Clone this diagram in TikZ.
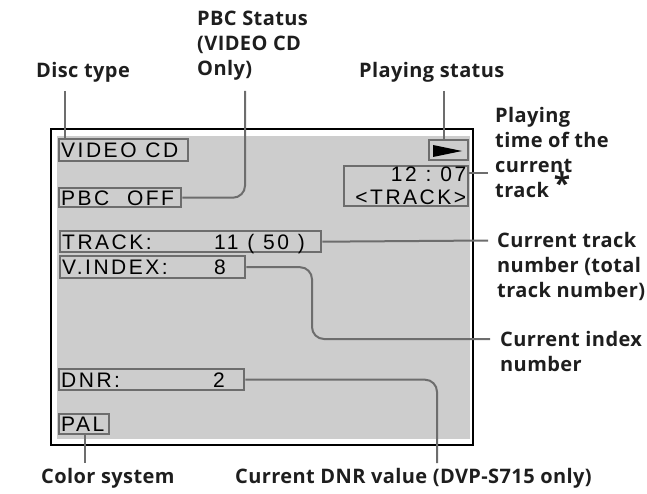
\documentclass[tikz,border=0pt]{standalone}
\usepackage{fontspec}
\setmainfont{Open Sans}[LetterSpace=2]
\newfontfamily\scrfont[LetterSpace=12]{Liberation Sans}
\usepackage{tikz}
\usetikzlibrary{positioning}
\usepackage{xcolor}
\definecolor{scrgray}{HTML}{CDCDCD}
\definecolor{boxgray}{HTML}{6D6D6D}
\definecolor{ink}{HTML}{1E1E1E}
\newcommand\gap{\hspace{0.42em}}

\tikzset{
  tag/.style={font=\bfseries\fontsize{20}{25}\selectfont, text=ink, align=left, inner sep=0pt, anchor=north west},
  lcd/.style={draw=boxgray, line width=2.4pt, font=\scrfont\fontsize{21}{23}\selectfont, inner xsep=2pt, inner ysep=0pt, align=left, anchor=north west},
  one/.style={text height=15pt, text depth=0pt},
  lead/.style={draw=boxgray, line width=2pt, rounded corners=12pt}
}

\begin{document}
\begin{tikzpicture}[x=1pt,y=-1pt]
\useasboundingbox (0,0) rectangle (647,494);
\draw[line width=1.6pt] (51,129) rectangle (473,445);
\fill[scrgray] (57,136) rectangle (470,439);

\node[lcd,one,text width=125pt,minimum height=22pt] (vcd) at (58,138) {VIDEO\gap CD};
\node[lcd,one,text width=118pt,minimum height=19pt] (pbc) at (58,187) {PBC\gap\gap OFF};
\node[lcd,one,text width=257pt,minimum height=21pt] (track) at (59,230) {\makebox[152pt][l]{TRACK:}11\gap(\gap 50\gap)};
\node[lcd,one,text width=181pt,minimum height=22pt] (vindex) at (59,255) {\makebox[152pt][l]{V.INDEX:}8};
\node[lcd,one,text width=181pt,minimum height=21pt] (dnr) at (58,368) {\makebox[152pt][l]{DNR:}2};
\node[lcd,one,text width=46pt,minimum height=20pt] (pal) at (58,413) {PAL};
\node[lcd,minimum width=39pt,minimum height=20pt,inner sep=0pt] (play) at (428,139) {};
\fill (433,145) -- (462,151) -- (433,157) -- cycle;
\node[lcd,text width=120pt,minimum height=40pt,align=right] (time) at (343,165) {12\gap:\gap 07\\<TRACK>};

\node[tag] (disc) at (36,62) {Disc type};
\node[tag] (pbcs) at (197,11) {PBC Status\\(VIDEO CD\\Only)};
\node[tag] (plays) at (359,62) {Playing status};
\node[tag] (ptime) at (495,107) {Playing\\time of the\\current\\track\hspace{5pt}\smash{\raisebox{3pt}{\fontsize{30}{30}\selectfont *}}};
\node[tag] (ctrack) at (497,232) {Current track\\number (total\\track number)};
\node[tag] (cindex) at (500,331) {Current index\\number};
\node[tag] (color) at (41,468) {Color system};
\node[tag] (cdnr) at (235,468) {Current DNR value (DVP-S715 only)};

\coordinate (discend) at (65,91);
\coordinate (pbcend) at (245,91);
\coordinate (playend) at (444,91);
\coordinate (timeend) at (488,173);
\coordinate (trackend) at (488,240.5);
\coordinate (idxbend) at (312,339);
\coordinate (idxend) at (490,339);
\coordinate (dnrend) at (437,463);
\coordinate (palend) at (85,463);
\draw[lead] (discend) -- (discend |- vcd.north);
\draw[lead] (pbc.east) -| (pbcend);
\draw[lead] (playend) -- (playend |- play.north);
\draw[lead] (timeend -| time.east) -- (timeend);
\draw[lead] (track.east) -- (trackend);
\draw[lead] (vindex.east) -| (idxbend) -- (idxend);
\draw[lead] (dnr.east) -| (dnrend);
\draw[lead] (pal.south -| palend) -- (palend);
\end{tikzpicture}
\end{document}
